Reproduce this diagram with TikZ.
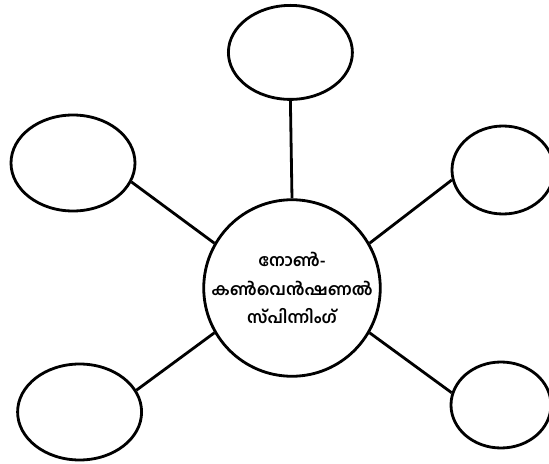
\documentclass[tikz,border=0pt]{standalone}
\usepackage{fontspec}
\newfontfamily\malfont[Script=Malayalam]{Hind Kochi}
\usetikzlibrary{shapes.geometric}
\tikzset{
  leaf/.style={draw, ellipse, line width=2pt},
  hub/.style={draw, circle, line width=2pt, minimum size=4.3cm, inner sep=0pt, align=center,
    font=\malfont\bfseries\fontsize{11.8}{20.5}\selectfont},
  spoke/.style={line width=2pt}
}
\begin{document}
\begin{tikzpicture}
\useasboundingbox (0,0) rectangle (13.725,-11.6);
\node[hub] (centre) at (7.3,-7.2) {നോൺ-\\കൺവെൻഷണൽ\\സ്പിന്നിംഗ്};
\node[leaf, minimum width=3.1cm, minimum height=2.35cm] (top) at (7.26,-1.31) {};
\node[leaf, minimum width=3.1cm, minimum height=2.4cm] (left) at (1.825,-4.075) {};
\node[leaf, minimum width=2.55cm, minimum height=2.2cm] (right) at (12.575,-4.25) {};
\node[leaf, minimum width=3.1cm, minimum height=2.4cm] (botleft) at (1.99,-10.3) {};
\node[leaf, minimum width=2.5cm, minimum height=2.15cm] (botright) at (12.525,-10.125) {};
\draw[spoke] (top.south) -- (centre.north);
\draw[spoke] (left.-18) -- (centre.150);
\draw[spoke] (right.191) -- (centre.30);
\draw[spoke] (botleft.21) -- (centre.210);
\draw[spoke] (botright.166) -- (centre.-30);
\end{tikzpicture}
\end{document}
